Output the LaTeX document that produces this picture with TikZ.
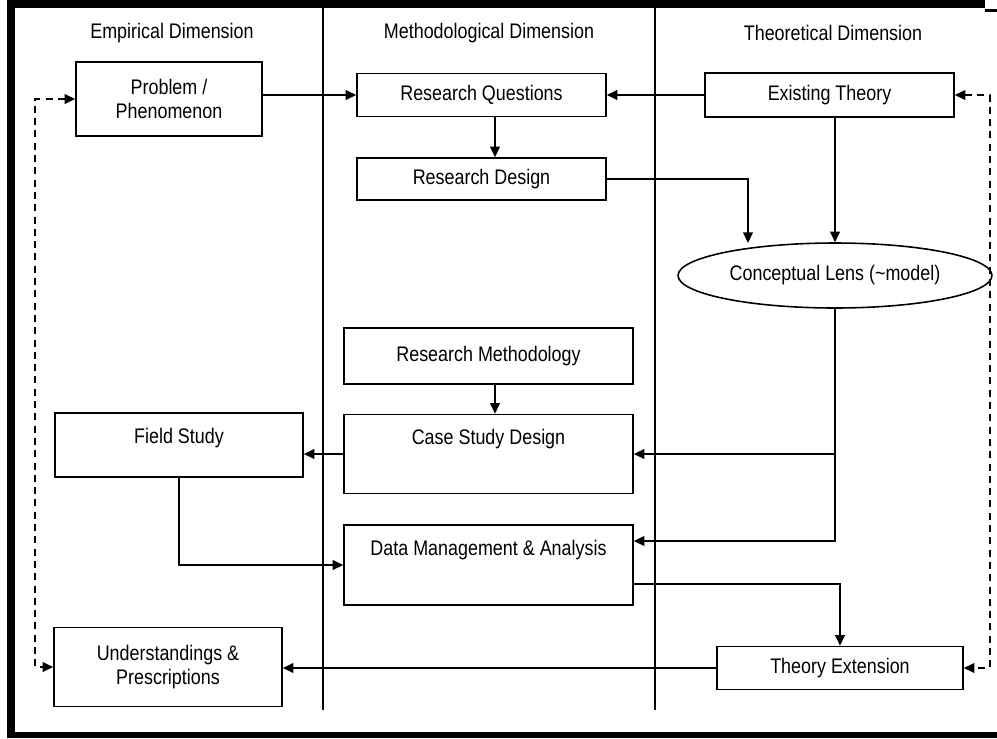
\documentclass[tikz,border=0pt]{standalone}
\usepackage{fontspec}
\setmainfont{Liberation Sans}[FakeStretch=0.85]
\usetikzlibrary{arrows.meta,shapes.geometric}

\begin{document}
\begin{tikzpicture}[x=0.02cm,y=-0.02cm,
        every node/.style={font=\fontsize{12}{14}\selectfont},
        box/.style={draw,line width=0.9pt,align=center,inner sep=0pt},
        conn/.style={line width=0.9pt,-{Triangle[length=6pt,width=5.5pt]}},
        loop/.style={line width=0.8pt,dashed,dash pattern=on 4pt off 3pt,{Triangle[length=6pt,width=5.5pt]}-{Triangle[length=6pt,width=5.5pt]}}]
    \useasboundingbox (0,0) rectangle (997,738);
    % frame
    \fill (7,0) rectangle (15,738);
    \fill (7,0) rectangle (985,8);
    \fill (985,9) rectangle (997,12);
    \fill (7,732) rectangle (997,738);
    % columns
    \foreach \x in {323,655}
    {
        \draw[line width=0.6pt] (\x,8) -- (\x,710);
    }
    \node (hemp) at (172,33) {Empirical Dimension};
    \node (hmeth) at (489,33) {Methodological Dimension};
    \node (htheo) at (833,33) {Theoretical Dimension};
    % boxes
    \node[box,minimum width=3.72cm,minimum height=1.48cm] (prob) at (169,99) {Problem /\\Phenomenon};
    \node[box,minimum width=4.98cm,minimum height=0.86cm] (rq) at (481.5,95) {Research Questions};
    \node[box,minimum width=4.98cm,minimum height=0.88cm] (theory) at (829.5,95) {Existing Theory};
    \node[box,minimum width=4.98cm,minimum height=0.84cm] (rdesign) at (481.5,179) {Research Design};
    \node[draw,ellipse,line width=0.9pt,inner sep=0pt,minimum width=6.28cm,minimum height=1.3cm] (lens) at (835,275.5) {Conceptual Lens (\textasciitilde model)};
    \node[box,minimum width=5.78cm,minimum height=1.12cm] (rmeth) at (488.5,356) {Research Methodology};
    \node[box,minimum width=5.78cm,minimum height=1.58cm] (csd) at (488.5,454) {Case Study Design\\[6pt]\mbox{}};
    \node[box,minimum width=5.78cm,minimum height=1.6cm] (dma) at (488.5,565) {Data Management \& Analysis\\[6pt]\mbox{}};
    \node[box,minimum width=4.96cm,minimum height=1.28cm] (field) at (179,445) {Field Study\\[-4pt]\mbox{}};
    \node[box,minimum width=4.56cm,minimum height=1.58cm] (und) at (168,667) {Understandings \&\\Prescriptions};
    \node[box,minimum width=4.92cm,minimum height=0.86cm] (te) at (840,668) {Theory Extension};
    % helper points
    \coordinate (q) at (495,0);
    \coordinate (bend) at (748,243);
    \coordinate (dl) at (35,0);
    \coordinate (dr) at (990,0);
    % connectors
    \draw[conn] (prob.east |- rq.west) -- (rq.west);
    \draw[conn] (theory.west) -- (theory.west -| rq.east);
    \draw[conn] (rq.south -| q) -- (rdesign.north -| q);
    \draw[conn] (rdesign.east) -| (bend);
    \draw[conn] (theory.south -| lens.north) -- (lens.north);
    \draw[conn] (lens.south) |- (csd.east);
    \draw[conn] (lens.south) |- ([yshift=4.8mm]dma.east);
    \draw[conn] (rmeth.south -| q) -- (csd.north -| q);
    \draw[conn] (csd.west) -- (csd.west -| field.east);
    \draw[conn] (field.south) |- (dma.west);
    \draw[conn] ([yshift=-3.8mm]dma.east) -| (te.north);
    \draw[conn] (te.west) -- (te.west -| und.east);
    % feedback loops
    \draw[loop] (prob.west) -- (prob.west -| dl) -- (und.west -| dl) -- (und.west);
    \draw[loop] (theory.east) -- (theory.east -| dr) -- (te.east -| dr) -- (te.east);
\end{tikzpicture}
\end{document}
